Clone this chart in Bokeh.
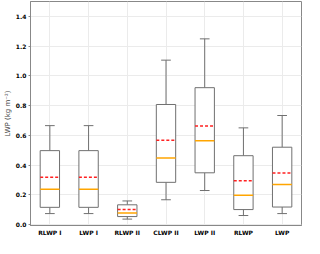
from bokeh.plotting import figure
from bokeh.models import FixedTicker, Range1d
from bokeh.embed import file_html
from bokeh.resources import INLINE

categories = ["RLWP I", "LWP I", "RLWP II", "CLWP II", "LWP II", "RLWP", "LWP"]
whisker_low = [0.075, 0.075, 0.038, 0.168, 0.230, 0.062, 0.075]
q1 = [0.117, 0.117, 0.055, 0.285, 0.349, 0.102, 0.119]
median = [0.238, 0.238, 0.079, 0.449, 0.564, 0.198, 0.270]
mean = [0.319, 0.319, 0.102, 0.568, 0.664, 0.296, 0.347]
q3 = [0.498, 0.498, 0.134, 0.808, 0.921, 0.464, 0.521]
whisker_high = [0.666, 0.666, 0.160, 1.106, 1.249, 0.651, 0.734]
y_ticks = [0.0, 0.2, 0.4, 0.6, 0.8, 1.0, 1.2, 1.4]

pos = list(range(1, len(categories) + 1))
box_w = 0.5
cap_w = 0.25

p = figure(width=304, height=238, output_backend="svg", toolbar_location=None,
           x_range=Range1d(0.5, 7.5), y_range=Range1d(-0.005, 1.5),
           min_border=0, min_border_left=0, min_border_right=3,
           min_border_top=1, min_border_bottom=0)

gray = "#707070"
# whiskers
p.segment(x0=pos, y0=q3, x1=pos, y1=whisker_high, line_color=gray, line_width=1)
p.segment(x0=pos, y0=q1, x1=pos, y1=whisker_low, line_color=gray, line_width=1)
# caps
p.segment(x0=[x - cap_w / 2 for x in pos], y0=whisker_high,
          x1=[x + cap_w / 2 for x in pos], y1=whisker_high, line_color=gray, line_width=1)
p.segment(x0=[x - cap_w / 2 for x in pos], y0=whisker_low,
          x1=[x + cap_w / 2 for x in pos], y1=whisker_low, line_color=gray, line_width=1)
# boxes
p.vbar(x=pos, width=box_w, top=q3, bottom=q1, fill_color="white", line_color=gray, line_width=1)
# median
p.segment(x0=[x - box_w / 2 for x in pos], y0=median,
          x1=[x + box_w / 2 for x in pos], y1=median, line_color="#ffa500", line_width=1.5)
# mean
p.segment(x0=[x - box_w / 2 for x in pos], y0=mean,
          x1=[x + box_w / 2 for x in pos], y1=mean, line_color="#ff2020", line_width=1.5,
          line_dash="3 2")

p.xaxis.ticker = FixedTicker(ticks=pos)
p.xaxis.major_label_overrides = {x: c for x, c in zip(pos, categories)}
p.yaxis.ticker = FixedTicker(ticks=y_ticks)
p.yaxis.major_label_overrides = {t: f"{t:.1f}" for t in y_ticks}
p.yaxis.axis_label = "LWP (kg m⁻²)"

for ax in (p.xaxis, p.yaxis):
    ax.major_label_text_font = "DejaVu Sans"
    ax.major_label_text_font_style = "bold"
    ax.major_label_text_font_size = "6px"
    ax.major_label_text_color = "black"
    ax.axis_line_color = "#888888"
    ax.major_tick_line_color = "#888888"
    ax.minor_tick_line_color = None
    ax.major_label_standoff = 2
p.xaxis.major_tick_out = 0
p.xaxis.major_tick_in = 0
p.xaxis.major_label_standoff = 3
p.yaxis.major_tick_out = 2
p.yaxis.major_tick_in = 0
p.yaxis.axis_label_text_font = "DejaVu Sans"
p.yaxis.axis_label_text_font_style = "normal"
p.yaxis.axis_label_text_font_size = "7px"
p.yaxis.axis_label_standoff = 1

p.xgrid.grid_line_color = "#ebebeb"
p.ygrid.grid_line_color = "#ebebeb"
p.outline_line_color = "#888888"
p.outline_line_width = 1
p.background_fill_color = "white"
p.border_fill_color = "white"

open("out.html", "w").write(file_html(p, INLINE))
